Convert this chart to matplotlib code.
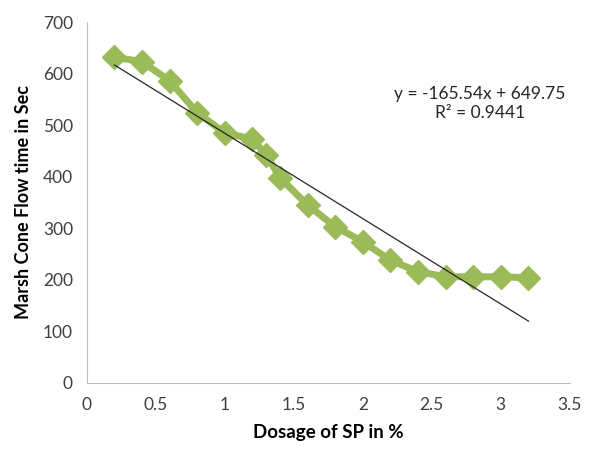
import matplotlib.pyplot as plt
import numpy as np

# data
dosage = [0.2, 0.4, 0.6, 0.8, 1.0, 1.2, 1.3, 1.4, 1.6, 1.8, 2.0, 2.2, 2.4, 2.6, 2.8, 3.0, 3.2]
flow_time = [632, 623, 586, 524, 485, 473, 442, 398, 345, 303, 274, 238, 216, 206, 206, 206, 204]
slope, intercept, r2 = -165.54, 649.75, 0.9441

plt.rcParams['font.family'] = ['Lato', 'DejaVu Sans']

fig = plt.figure(figsize=(6.03, 4.49), dpi=100)
ax = fig.add_axes([0.144, 0.147, 0.801, 0.804])

ax.plot(dosage, flow_time, color='#9bbb59', lw=5, marker='D', ms=12,
        mec='#9bbb59', mfc='#9bbb59', zorder=2)

# linear trendline
xt = np.array([dosage[0], dosage[-1]])
ax.plot(xt, slope * xt + intercept, color='#262626', lw=0.9, zorder=3)

ax.text(2.85, 542, f'y = {slope}x + {intercept}\nR² = {r2}', ha='center', va='center',
        fontsize=12.5, color='#262626', linespacing=1.2)

ax.set_xlim(0, 3.5)
ax.set_ylim(0, 700)
ax.set_xticks(np.arange(0, 3.51, 0.5))
ax.set_xticklabels(['0', '0.5', '1', '1.5', '2', '2.5', '3', '3.5'])
ax.set_yticks(range(0, 701, 100))
ax.tick_params(length=0, labelsize=12.5, labelcolor='#404040', pad=10)

for s in ['top', 'right']:
    ax.spines[s].set_visible(False)
for s in ['left', 'bottom']:
    ax.spines[s].set_color('#bfbfbf')

ax.set_xlabel('Dosage of SP in %', fontsize=13.5, fontweight='bold', labelpad=8)
ax.set_ylabel('Marsh Cone Flow time in Sec', fontsize=13, fontweight='bold', labelpad=8)

fig.savefig('out.png', dpi=100)
